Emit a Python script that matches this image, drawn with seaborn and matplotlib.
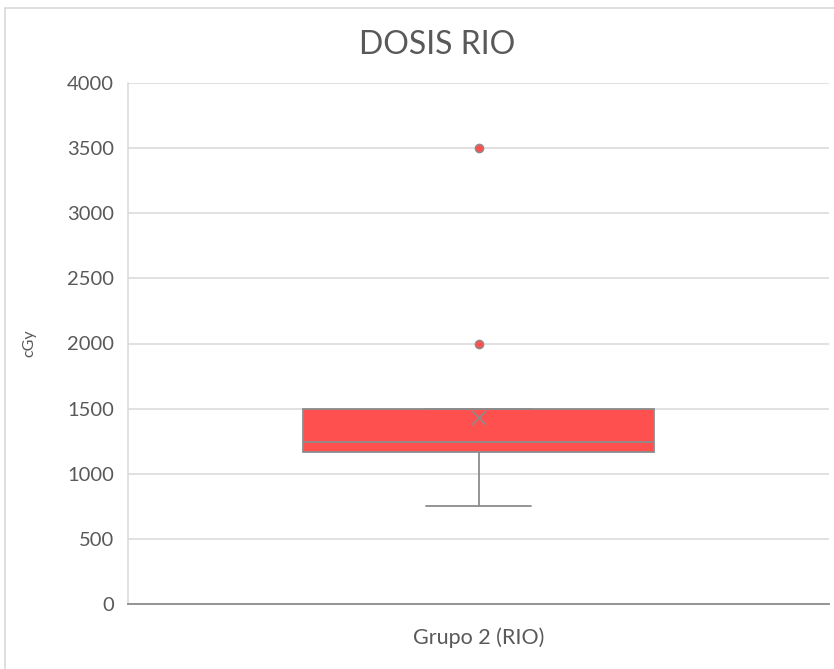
import matplotlib
matplotlib.use("Agg")
import matplotlib.pyplot as plt
from matplotlib.lines import Line2D
import seaborn as sns
import pandas as pd

# Dose per patient, group 2 (RIO)
dose_cgy = [750, 1050, 1080, 1100, 1190, 1200, 1230, 1240, 1250,
            1350, 1450, 1500, 1500, 1500, 2000, 3500]
group_label = "Grupo 2 (RIO)"
title = "DOSIS RIO"
y_ticks = [0, 500, 1000, 1500, 2000, 2500, 3000, 3500, 4000]

df = pd.DataFrame({"grupo": [group_label] * len(dose_cgy), "cGy": dose_cgy})

sns.set_theme(style="white")
plt.rcParams["font.family"] = ["Lato", "DejaVu Sans"]

text_color = "#595959"
edge = "#8c8c8c"
fill = "#ff5050"

fig = plt.figure(figsize=(8.34, 6.69), dpi=100)
ax = fig.add_axes([128 / 834, 65 / 669, 701 / 834, 521 / 669])

sns.boxplot(
    data=df, x="grupo", y="cGy", ax=ax, width=0.5,
    color=fill, saturation=1, linecolor=edge, linewidth=1.3,
    showmeans=True,
    meanprops=dict(marker="x", markeredgecolor=edge, markersize=10,
                   markeredgewidth=1.2),
    flierprops=dict(marker="o", markerfacecolor=fill, markeredgecolor=edge,
                    markersize=6, markeredgewidth=1),
    capwidths=0.15,
)

ax.set_ylim(0, 4000)
ax.set_xlim(-0.5, 0.5)
ax.set_yticks(y_ticks)
ax.set_yticklabels([str(t) for t in y_ticks], fontsize=14.5, color=text_color)
ax.tick_params(axis="x", labelsize=15.5, labelcolor=text_color, length=0, pad=17)
ax.tick_params(axis="y", length=0, pad=10)
ax.yaxis.grid(True, color="#d9d9d9", linewidth=1.1)
ax.set_axisbelow(True)
for side in ("right", "top"):
    ax.spines[side].set_visible(False)
ax.spines["left"].set_color("#d9d9d9")
ax.spines["left"].set_linewidth(1.1)
ax.spines["bottom"].set_color("#8c8c8c")
ax.spines["bottom"].set_linewidth(1.3)

ax.set_xlabel("")
ax.set_ylabel("cGy", fontsize=11.5, color=text_color, labelpad=22)
fig.text(437 / 834, 1 - 45 / 669, title, ha="center", va="center",
         fontsize=23, color=text_color)

# chart area border
fig.add_artist(Line2D([5 / 834, 5 / 834], [0, 1 - 8 / 669],
                      transform=fig.transFigure, color="#d9d9d9", lw=1.2))
fig.add_artist(Line2D([5 / 834, 1], [1 - 8 / 669, 1 - 8 / 669],
                      transform=fig.transFigure, color="#d9d9d9", lw=1.2))

fig.savefig("out.png", dpi=100)
